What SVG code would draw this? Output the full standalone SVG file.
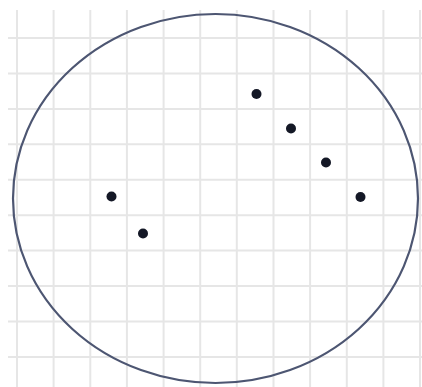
<svg xmlns="http://www.w3.org/2000/svg" width="422" height="387" viewBox="0 0 422 387">
<style>
.grid line{stroke:#e6e6e6;stroke-width:2}
.dot{fill:#141826}
</style>
<rect width="422" height="387" fill="#ffffff"/>
<g class="grid">
<line x1="17" y1="10" x2="17" y2="387"/>
<line x1="53.6" y1="10" x2="53.6" y2="387"/>
<line x1="90.3" y1="10" x2="90.3" y2="387"/>
<line x1="126.9" y1="10" x2="126.9" y2="387"/>
<line x1="163.6" y1="10" x2="163.6" y2="387"/>
<line x1="200.2" y1="10" x2="200.2" y2="387"/>
<line x1="236.8" y1="10" x2="236.8" y2="387"/>
<line x1="273.5" y1="10" x2="273.5" y2="387"/>
<line x1="310.1" y1="10" x2="310.1" y2="387"/>
<line x1="346.8" y1="10" x2="346.8" y2="387"/>
<line x1="383.4" y1="10" x2="383.4" y2="387"/>
<line x1="420" y1="10" x2="420" y2="387"/>
<line x1="8" y1="38" x2="422" y2="38"/>
<line x1="8" y1="73.4" x2="422" y2="73.4"/>
<line x1="8" y1="108.9" x2="422" y2="108.9"/>
<line x1="8" y1="144.3" x2="422" y2="144.3"/>
<line x1="8" y1="179.8" x2="422" y2="179.8"/>
<line x1="8" y1="215.2" x2="422" y2="215.2"/>
<line x1="8" y1="250.6" x2="422" y2="250.6"/>
<line x1="8" y1="286.1" x2="422" y2="286.1"/>
<line x1="8" y1="321.5" x2="422" y2="321.5"/>
<line x1="8" y1="357" x2="422" y2="357"/>
</g>
<ellipse id="ellipse" cx="215.5" cy="198.5" rx="202.5" ry="184.5" fill="none" stroke="#4d5672" stroke-width="2.2"/>
<g id="points">
<circle class="dot" cx="111.5" cy="196.5" r="5"/>
<circle class="dot" cx="143" cy="233.5" r="5"/>
<circle class="dot" cx="256.5" cy="94" r="5"/>
<circle class="dot" cx="291" cy="128.5" r="5"/>
<circle class="dot" cx="326" cy="162.5" r="5"/>
<circle class="dot" cx="360.5" cy="197" r="5"/>
</g>
</svg>
